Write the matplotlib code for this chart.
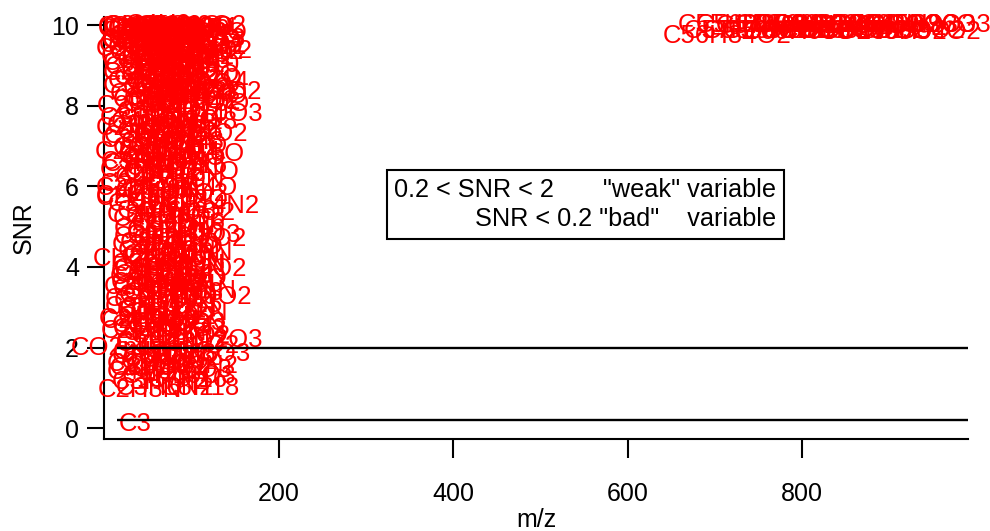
import matplotlib
matplotlib.use("Agg")
import matplotlib.pyplot as plt

plt.rcParams['font.family'] = ['Liberation Sans', 'DejaVu Sans']

# low-mass ions: label, m/z position, SNR
low_ions = [
    "CH3", "C2H3", "CHO", "C2H5", "CH3O", "C3H3", "C3H5", "C2H3O", "C3H7", "C2H5O",
    "C4H5", "C3H3O", "C4H7", "C3H5O", "C4H9", "C2H3O2", "C3H7O", "C5H7", "C4H5O", "C5H9",
    "C4H7O", "C3H5O2", "C6H7", "C5H7O", "C6H9", "C4H5O2", "C5H9O", "C6H11", "C4H7O2", "C7H7",
    "C6H7O", "C7H9", "C5H7O2", "C6H9O", "C7H11", "C5H9O2", "C8H9", "C7H7O", "C8H11", "C6H7O2",
    "C7H9O", "C8H13", "C6H9O2", "C9H11", "C7H11O", "C8H9O", "C9H13", "C2H2", "CO", "C2H4",
    "CH2O", "C3H4", "C3H6", "C4H6", "C4H8", "C5H8", "C6H6", "C6H10", "C7H8", "C7H12",
    "C8H10", "C9H12", "CH3Cl", "C2H6O", "C3H6O", "C4H8O",
    "C2H4O", "C3H4O", "C4H4O", "C5H6O", "C5H8O", "C6H8O", "C6H10O", "C7H10O", "C7H12O", "C8H12O",
    "C3H4O2", "C4H6O2", "C5H6O2", "C5H8O2", "C6H8O2", "C6H10O2", "C7H8O2", "C8H12O2", "C9H14O", "C10H14",
    "C2H5N", "C3H5N", "C4H7N", "C6H5", "C4H3O2", "C7H7O2", "C8H8O", "C9H10O", "C5H11", "C9H9",
    "C7H10O3", "C3H3N", "C4H5N", "C5H5O", "C3H6O2", "C4H8O2", "C5H10O", "C6H12", "C6H13", "C7H13",
    "C5H9N", "C8H14", "C6H11O", "C4H9O", "C5H10", "C6H6O", "C7H14", "C3H8O", "C2H6O2", "C8H16",
    "C5H12", "C4H10", "C6H14O", "C7H9N", "C3H3O2", "C9H8",
    "C2H3NO", "C3H5NO", "C4H7NO", "C5H9NO", "C6H11NO", "C7H14O2", "C8H16O", "C9H18", "C2H2N2", "C3H2O2",
    "C8H14N2", "C6H16", "C2H5O2", "C2H3Cl", "CH4N2O", "C4H6N", "C5H6N", "C7H14O", "C6H12O", "C3H8N",
    "C4H4N", "C5H4O", "C6H12O2", "C2H4O2", "CH2Cl2", "C2H6N", "C4H10N", "C5H11N", "C6H10N", "C7H8O",
    "C3H9N", "C5H5N", "C4H9N", "C6H9N", "C7H10", "C8H9N", "C6H7N", "C5H12O",
    "C2H2O3", "C3H4O3", "C4H6O3", "C5H8O3", "C6H10O3", "C6H4O2", "C7H6O2",
    "C3H7N", "C4H11N", "C5H13", "C2H7N", "C6H13N", "C7H6O", "C3H4N", "C5H10N", "C4H7N2", "C6H8N",
    "C8H11N", "C3H9O", "C4H12", "C5H7N2", "C6H12N", "C7H15", "C2H8O2", "C3H5O3", "C4H10O2", "C5H5O3",
    "C7H12O2", "C8H10O2", "C4H9O2", "C3H7O2", "C5H13N", "C6H15N", "C2H4N2", "C3H6N3", "C4H4O3", "C5H6O3",
    "C2H6S", "CO2plus", "C8H12O3", "C5H11O2", "C4H8N", "C3H6N", "C6H5O2", "C7H9O2", "C7H8O3",
    "CH2O2", "C2H7O", "C3H8O2", "C4H5N2", "C5H9N2", "C6H12N2", "C7H16", "C3H7N2", "C8H18", "C4H10O3",
    "C4H6N2", "C5H8N2", "C6H6O3",
    "C2H3N", "C3H6N2", "C3",
]
low_mz = [
    22, 30, 33, 36, 38, 42, 46, 48, 50, 53,
    55, 57, 59, 61, 63, 65, 67, 69, 71, 73,
    75, 77, 79, 81, 83, 85, 87, 89, 91, 93,
    95, 97, 99, 101, 103, 105, 107, 109, 111, 113,
    115, 117, 106, 119, 92, 84, 100, 28, 26, 34,
    40, 44, 52, 58, 66, 70, 78, 88, 96, 104,
    110, 114, 38, 46, 54, 62,
    50, 48, 60, 68, 74, 82, 90, 98, 94, 102,
    56, 64, 76, 80, 88, 92, 100, 116, 108, 112,
    40, 58, 70, 72, 62, 96, 104, 110, 66, 86,
    117, 44, 56, 64, 60, 72, 76, 80, 84, 90,
    68, 94, 86, 66, 62, 72, 88, 48, 52, 96,
    70, 58, 82, 90, 54, 100,
    50, 60, 70, 80, 88, 100, 104, 108, 46, 54,
    114, 94, 48, 42, 50, 62, 70, 96, 86, 52,
    58, 60, 98, 66, 39, 57, 72, 78, 84, 88,
    60, 74, 68, 90, 92, 100, 80, 76,
    52, 62, 72, 82, 92, 86, 94,
    56, 62, 70, 48, 84, 92, 58, 74, 68, 80,
    96, 50, 60, 72, 86, 90, 54, 66, 76, 82,
    98, 104, 68, 58, 74, 84, 50, 64, 70, 80,
    44, 19, 117, 78, 70, 62, 88, 98, 111,
    58, 52, 64, 60, 76, 90, 96, 66, 110, 86,
    66, 78, 90,
    41, 70, 36,
]
low_snr = [
    9.95, 9.90, 9.97, 9.85, 9.60, 9.93, 9.75, 9.98, 9.55, 9.88,
    9.70, 9.95, 9.45, 9.82, 9.99, 9.60, 9.90, 9.35, 9.77, 9.96,
    9.50, 9.86, 9.68, 9.93, 9.30, 9.80, 9.97, 9.55, 9.75, 9.90,
    9.40, 9.85, 9.62, 9.95, 9.72, 9.50, 9.88, 9.60, 9.93, 9.35,
    9.80, 9.65, 9.98, 9.45, 9.25, 9.15, 9.10, 9.40, 9.70, 9.20,
    9.05, 9.30, 9.12, 9.22, 9.05, 9.18, 9.08, 9.28, 9.02, 9.20,
    9.00, 9.32, 9.50, 9.62, 9.42, 9.58,
    8.95, 8.80, 8.70, 8.90, 8.60, 8.85, 8.55, 8.75, 8.40, 8.65,
    8.50, 8.30, 8.78, 8.20, 8.45, 8.10, 8.35, 8.35, 8.25, 8.60,
    8.00, 8.15, 8.05, 8.88, 8.62, 8.12, 8.28, 8.05, 8.45, 8.92,
    7.80, 7.70, 7.60, 7.85, 7.50, 7.35, 7.65, 7.20, 7.55, 7.40,
    7.10, 7.75, 7.00, 6.90, 6.75, 6.60, 6.85, 6.55, 6.40, 6.50,
    6.30, 6.20, 6.45, 6.15, 6.60, 7.10,
    7.45, 7.25, 6.95, 6.70, 6.35, 7.30, 6.80, 7.60, 6.85, 7.15,
    5.50, 5.10, 5.95, 5.75, 5.72, 5.90, 5.85, 5.95, 5.65, 5.30,
    5.20, 4.95, 4.70, 4.55, 4.20, 4.08, 4.40, 4.30, 4.15, 4.50,
    4.75, 4.90, 4.25, 4.05, 4.85, 4.35, 5.05, 4.60,
    6.05, 5.55, 5.40, 5.25, 4.80, 5.80, 5.35,
    3.90, 3.75, 3.60, 3.50, 3.85, 3.70, 3.45, 3.30, 3.15, 3.55,
    3.40, 3.00, 2.90, 2.75, 2.85, 3.05, 2.65, 2.55, 2.45, 2.60,
    3.95, 3.25, 3.95, 3.20, 2.95, 2.50, 2.70, 3.60, 3.80, 3.35,
    2.42, 2.00, 2.20, 2.15, 2.35, 2.10, 2.30, 2.05, 1.85,
    1.78, 1.60, 1.50, 1.40, 1.65, 1.55, 1.20, 1.15, 1.00, 1.30,
    1.90, 1.75, 1.45,
    0.95, 1.00, 0.10,
]

# high-mass ions
high_ions = [
    "C56H84O2", "C55H88O3", "C57H90O2", "C56H86O3", "C58H92O2", "C57H94O3",
    "C59H96O2", "C58H90O3", "C60H98O2", "C59H92O3", "C61H99O2", "C60H94O3",
    "C62H97O2", "C61H96O3", "C63H94O2", "C62H98O3", "C64H96O2", "C63H90O3",
    "C65H98O2", "C64H92O3", "C66H94O2", "C65H96O3",
]
high_mz = [
    714, 731, 738, 752, 760, 775, 783, 796, 805, 818, 826,
    840, 848, 862, 870, 884, 892, 905, 913, 926, 931, 943,
]
high_snr = [
    9.72, 10.0, 9.85, 10.0, 9.85, 9.98, 9.86, 10.0, 9.84, 9.99, 9.85,
    10.0, 9.86, 9.98, 9.85, 10.0, 9.84, 9.99, 9.86, 10.0, 9.83, 10.0,
]

weak_level = 2.0
bad_level = 0.2

fig = plt.figure(figsize=(9.9, 5.31), dpi=100)
ax = fig.add_axes([0.105, 0.173, 0.873, 0.795])

for ion, m, s in zip(low_ions + high_ions, low_mz + high_mz, low_snr + high_snr):
    ax.text(m, s, ion, color='red', fontsize=18.5, ha='center', va='center', zorder=3)

ax.hlines([weak_level, bad_level], 15, 990, colors='black', lw=1.7, zorder=4)

ax.text(0.336, 0.556, '0.2 < SNR < 2       "weak" variable\nSNR < 0.2 "bad"    variable',
        transform=ax.transAxes, ha='left', va='center', multialignment='right',
        fontsize=18.2, zorder=5, linespacing=1.3,
        bbox=dict(boxstyle='square,pad=0.3', fc='white', ec='black', lw=1.5))

ax.set_xlim(0, 990)
ax.set_ylim(-0.27, 10.2)
ax.set_xticks([200, 400, 600, 800])
ax.set_yticks([0, 2, 4, 6, 8, 10])

for sp in ['top', 'right']:
    ax.spines[sp].set_visible(False)
for sp in ['left', 'bottom']:
    ax.spines[sp].set_linewidth(1.5)

ax.tick_params(axis='x', direction='out', length=14, width=1.5, labelsize=18, pad=17)
ax.tick_params(axis='y', direction='out', length=12, width=1.5, labelsize=18, pad=6)

ax.set_xlabel('m/z', fontsize=18, labelpad=1)
ax.set_ylabel('SNR', fontsize=18, labelpad=11)

fig.savefig('out.png', dpi=100)
